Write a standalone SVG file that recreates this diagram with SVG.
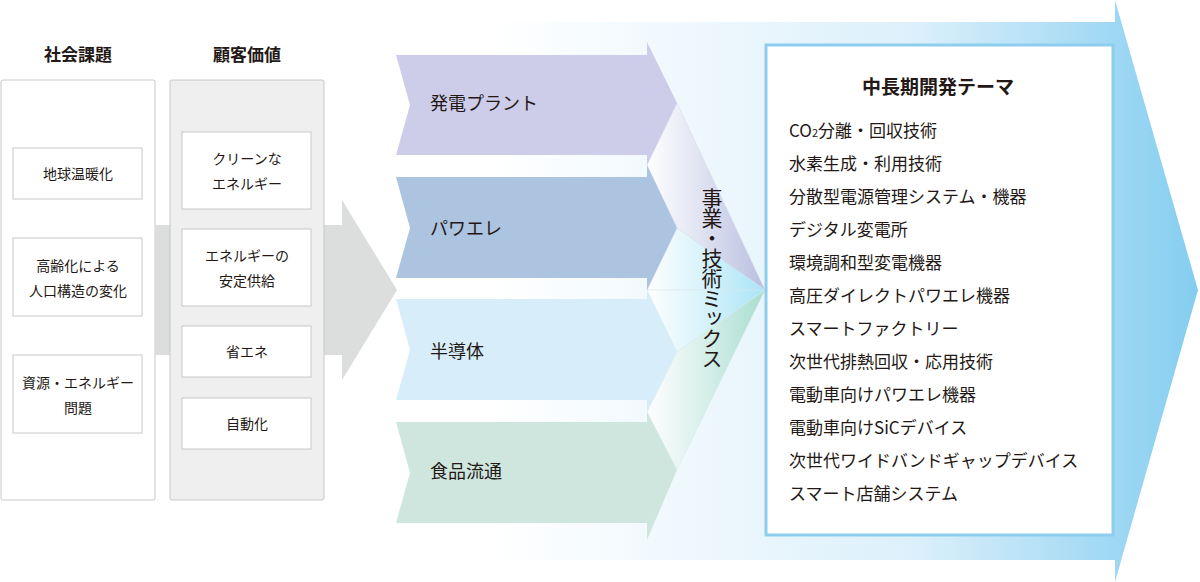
<svg xmlns="http://www.w3.org/2000/svg" width="1200" height="582" viewBox="0 0 1200 582">
<style>
text{font-family:"Noto Sans CJK JP","Noto Sans",sans-serif;fill:#231815}
.h{font-size:17px;font-weight:bold;text-anchor:middle}
.b{font-size:14px;text-anchor:middle}
.c{font-size:18px}
.l{font-size:17px}
.bx{fill:#fff;stroke:#c8c8c8;stroke-width:1}
</style>
<defs>
<linearGradient id="bg" x1="490" y1="0" x2="1200" y2="0" gradientUnits="userSpaceOnUse">
<stop offset="0" stop-color="#fff"/><stop offset="0.6" stop-color="#dcf0fb"/><stop offset="1" stop-color="#84cdf0"/>
</linearGradient>
<linearGradient id="f1" x1="647" x2="765" y1="0" y2="0" gradientUnits="userSpaceOnUse"><stop offset="0" stop-color="#fff" stop-opacity="0.9"/><stop offset="1" stop-color="#b8bedf"/></linearGradient>
<linearGradient id="f2" x1="647" x2="765" y1="0" y2="0" gradientUnits="userSpaceOnUse"><stop offset="0" stop-color="#fff" stop-opacity="0.9"/><stop offset="1" stop-color="#a9e4f6"/></linearGradient>
<linearGradient id="f3" x1="647" x2="765" y1="0" y2="0" gradientUnits="userSpaceOnUse"><stop offset="0" stop-color="#fff" stop-opacity="0.9"/><stop offset="1" stop-color="#a9ddd0"/></linearGradient>
</defs>
<g id="background-arrow">
<polygon points="490,22 1115,22 1115,0 1198,290 1115,582 1115,560 490,560" fill="url(#bg)"/>
</g>
<g id="col-social">
<rect x="1" y="80" width="154" height="420" rx="2" fill="#fff" stroke="#c8c8c8"/>
<text class="h" x="78" y="61">社会課題</text>
</g>
<g id="connectors">
<rect x="155" y="225" width="15" height="130" fill="#dcdddd"/>
<polygon points="324,225 342,225 342,200 397,290 342,380 342,355 324,355" fill="#dcdddd"/>
</g>
<g id="col-value">
<rect x="170" y="80" width="154" height="420" rx="2" fill="#efefef" stroke="#c8c8c8"/>
<text class="h" x="247" y="61">顧客価値</text>
</g>
<g id="n-warming"><rect class="bx" x="13" y="148" width="129" height="51"/><text class="b" x="78" y="179">地球温暖化</text></g>
<g id="n-aging"><rect class="bx" x="13" y="238" width="129" height="78"/><text class="b" x="78" y="271">高齢化による</text><text class="b" x="78" y="296">人口構造の変化</text></g>
<g id="n-resource"><rect class="bx" x="13" y="355" width="129" height="78"/><text class="b" x="78" y="388">資源・エネルギー</text><text class="b" x="78" y="413">問題</text></g>
<g id="n-clean"><rect class="bx" x="182" y="132" width="129" height="77"/><text class="b" x="247" y="164">クリーンな</text><text class="b" x="247" y="189">エネルギー</text></g>
<g id="n-stable"><rect class="bx" x="182" y="229" width="129" height="77"/><text class="b" x="247" y="261">エネルギーの</text><text class="b" x="247" y="286">安定供給</text></g>
<g id="n-save"><rect class="bx" x="182" y="326" width="129" height="51"/><text class="b" x="247" y="357">省エネ</text></g>
<g id="n-auto"><rect class="bx" x="182" y="398" width="129" height="51"/><text class="b" x="247" y="429">自動化</text></g>
<g id="fan">
<polygon points="677,103 647,165 677,228 765,290" fill="url(#f1)" stroke="#d8d8e8" stroke-width="0.5"/>
<polygon points="677,228 647,290 765,290" fill="url(#f2)" stroke="#d8d8e8" stroke-width="0.5"/>
<polygon points="647,290 677,352 765,290" fill="url(#f2)" stroke="#d8e8e8" stroke-width="0.5"/>
<polygon points="677,352 647,412 677,470 765,290" fill="url(#f3)" stroke="#d8e8e8" stroke-width="0.5"/>
</g>
<g id="n-power">
<polygon points="396,55 647,55 647,42 677,103 647,165 647,155 396,155 410,105" fill="#cdcde9"/>
<text class="c" x="430" y="110">発電プラント</text></g>
<g id="n-pwr">
<polygon points="396,177 647,177 647,165 677,228 647,290 647,278 396,278 410,228" fill="#adc4e0"/>
<text class="c" x="430" y="235">パワエレ</text></g>
<g id="n-semi">
<polygon points="396,299 647,299 647,290 677,352 647,412 647,400 396,400 410,350" fill="#d7eefa"/>
<text class="c" x="430" y="358">半導体</text></g>
<g id="n-food">
<polygon points="396,422 647,422 647,412 677,470 647,540 647,523 396,523 410,473" fill="#cfe6df"/>
<text class="c" x="430" y="478">食品流通</text></g>
<text x="712" y="188" style="font-size:21px;writing-mode:vertical-rl;letter-spacing:-1px">事業・技術ミックス</text>
<g id="n-themes">
<rect x="766" y="45" width="347" height="490" fill="#fff" stroke="#8dcdee" stroke-width="3"/>
<text x="938" y="94" style="font-size:19px;font-weight:bold;text-anchor:middle">中長期開発テーマ</text>
<text class="l" x="789" y="137">CO<tspan font-size="11">2</tspan>分離・回収技術</text>
<text class="l" x="789" y="170">水素生成・利用技術</text>
<text class="l" x="789" y="203">分散型電源管理システム・機器</text>
<text class="l" x="789" y="236">デジタル変電所</text>
<text class="l" x="789" y="269">環境調和型変電機器</text>
<text class="l" x="789" y="302">高圧ダイレクトパワエレ機器</text>
<text class="l" x="789" y="335">スマートファクトリー</text>
<text class="l" x="789" y="368">次世代排熱回収・応用技術</text>
<text class="l" x="789" y="401">電動車向けパワエレ機器</text>
<text class="l" x="789" y="434">電動車向けSiCデバイス</text>
<text class="l" x="789" y="467">次世代ワイドバンドギャップデバイス</text>
<text class="l" x="789" y="500">スマート店舗システム</text>
</g>
</svg>
